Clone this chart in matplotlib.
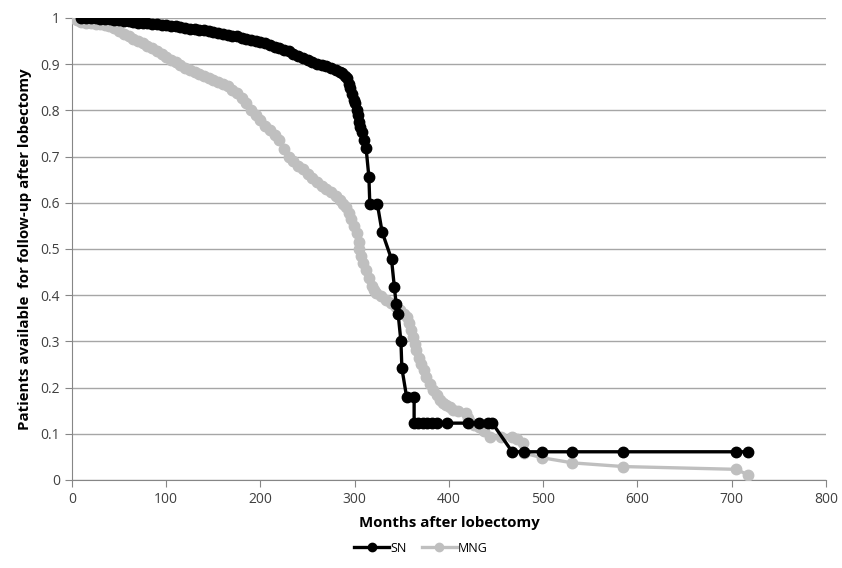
import matplotlib
matplotlib.use("Agg")
import matplotlib.pyplot as plt
from matplotlib.ticker import FuncFormatter

plt.rcParams["font.family"] = ["Open Sans", "DejaVu Sans"]

# SN series (months, fraction available)
sn_months = [10, 15, 20, 25, 30, 35, 40, 45, 50, 55, 60, 65, 70, 75, 80, 85,
             90, 95, 100, 105, 110, 115, 120, 125, 130, 135, 140, 145, 150,
             155, 160, 165, 170, 175, 180, 185, 190, 195, 200, 205, 210, 215,
             220, 225, 230, 235, 240, 245, 250, 255, 260, 265, 270, 275, 280,
             284, 287, 290, 292, 294, 295, 297, 299, 300, 302, 303, 305, 306,
             308, 310, 312, 315, 316, 324, 329, 339, 342, 344, 346, 349, 350,
             355, 363, 363, 367, 372, 377, 382, 387, 398, 420, 432, 441, 446,
             467, 480, 499, 531, 585, 705, 717]
sn_values = [1.0, 1.0, 1.0, 0.999, 0.998, 0.998, 0.997, 0.996, 0.995, 0.994,
             0.993, 0.991, 0.99, 0.989, 0.988, 0.987, 0.986, 0.985, 0.984,
             0.983, 0.982, 0.98, 0.979, 0.977, 0.976, 0.974, 0.973, 0.971,
             0.97, 0.968, 0.966, 0.964, 0.962, 0.96, 0.957, 0.955, 0.952, 0.95,
             0.947, 0.945, 0.942, 0.938, 0.935, 0.931, 0.928, 0.923, 0.918,
             0.913, 0.908, 0.904, 0.9, 0.898, 0.896, 0.892, 0.888, 0.884, 0.88,
             0.875, 0.87, 0.858, 0.848, 0.835, 0.822, 0.816, 0.8, 0.79, 0.775,
             0.765, 0.753, 0.735, 0.719, 0.656, 0.597, 0.597, 0.537, 0.478,
             0.418, 0.38, 0.36, 0.30, 0.242, 0.18, 0.18, 0.123, 0.123, 0.123,
             0.123, 0.123, 0.123, 0.123, 0.123, 0.123, 0.123, 0.123, 0.061,
             0.061, 0.061, 0.061, 0.061, 0.061, 0.061]

# MNG series
mng_months = [0, 5, 10, 15, 20, 25, 30, 35, 39, 45, 50, 55, 60, 65, 70, 75,
              80, 85, 90, 95, 100, 105, 110, 115, 120, 125, 130, 135, 140, 145,
              150, 155, 160, 165, 170, 175, 180, 185, 190, 195, 200, 205, 210,
              215, 220, 225, 230, 235, 240, 245, 250, 255, 260, 265, 270, 275,
              280, 284, 288, 291, 294, 296, 299, 302, 304, 305, 307, 309, 312,
              315, 318, 320, 323, 328, 333, 338, 344, 348, 352, 355, 358, 360,
              362, 364, 365, 368, 370, 373, 376, 380, 383, 387, 390, 394, 397,
              401, 404, 410, 418, 420, 422, 427, 432, 437, 443, 455, 467, 472,
              478, 480, 499, 531, 585, 705, 717]
mng_values = [1.0, 0.995, 0.992, 0.99, 0.989, 0.987, 0.986, 0.985, 0.983,
              0.978, 0.972, 0.966, 0.96, 0.955, 0.95, 0.945, 0.939, 0.934,
              0.928, 0.922, 0.916, 0.91, 0.905, 0.898, 0.892, 0.887, 0.882,
              0.878, 0.874, 0.87, 0.866, 0.862, 0.857, 0.852, 0.845, 0.837,
              0.827, 0.815, 0.8, 0.79, 0.779, 0.767, 0.757, 0.747, 0.735,
              0.716, 0.7, 0.69, 0.68, 0.672, 0.663, 0.654, 0.645, 0.637, 0.63,
              0.623, 0.614, 0.606, 0.598, 0.59, 0.578, 0.565, 0.55, 0.535,
              0.515, 0.5, 0.485, 0.47, 0.455, 0.437, 0.42, 0.412, 0.405, 0.398,
              0.39, 0.383, 0.375, 0.368, 0.36, 0.352, 0.34, 0.325, 0.31, 0.295,
              0.281, 0.265, 0.25, 0.237, 0.223, 0.208, 0.195, 0.183, 0.173,
              0.167, 0.162, 0.157, 0.152, 0.149, 0.145, 0.135, 0.126, 0.12,
              0.115, 0.105, 0.093, 0.093, 0.093, 0.088, 0.08, 0.058, 0.048,
              0.037, 0.029, 0.023, 0.011]

x_ticks = list(range(0, 801, 100))
y_ticks = [i / 10 for i in range(11)]

fig = plt.figure(figsize=(8.42, 5.68), dpi=100)
ax = fig.add_axes([0.0855, 0.155, 0.8955, 0.8134])

ax.plot(mng_months, mng_values, color="#BFBFBF", lw=2.4, marker="o",
        markersize=7.5, label="MNG", zorder=3)
ax.plot(sn_months, sn_values, color="black", lw=2.4, marker="o",
        markersize=7.5, label="SN", zorder=4)

ax.set_xlim(0, 800)
ax.set_ylim(0, 1)
ax.set_xticks(x_ticks)
ax.set_yticks(y_ticks)
ax.yaxis.set_major_formatter(FuncFormatter(lambda v, _: f"{v:g}"))
ax.tick_params(labelsize=10, colors="#868686", length=5, labelcolor="#404040")
ax.grid(axis="y", color="#A6A6A6", lw=1)
ax.set_axisbelow(True)
for s in ("top", "right"):
    ax.spines[s].set_visible(False)
for s in ("left", "bottom"):
    ax.spines[s].set_color("#868686")

ax.set_xlabel("Months after lobectomy", fontsize=10.8, fontweight="bold",
              labelpad=7)
ax.set_ylabel("Patients available  for follow-up after lobectomy", fontsize=10.8,
              fontweight="bold", labelpad=6)

h, l = ax.get_legend_handles_labels()
fig.legend(h[::-1], l[::-1], loc="center", bbox_to_anchor=(0.5, 0.035), ncol=2,
           frameon=False, fontsize=9, handlelength=2.8, columnspacing=1.2,
           handletextpad=0.1, markerscale=0.8)

fig.savefig("out.png", dpi=100)
